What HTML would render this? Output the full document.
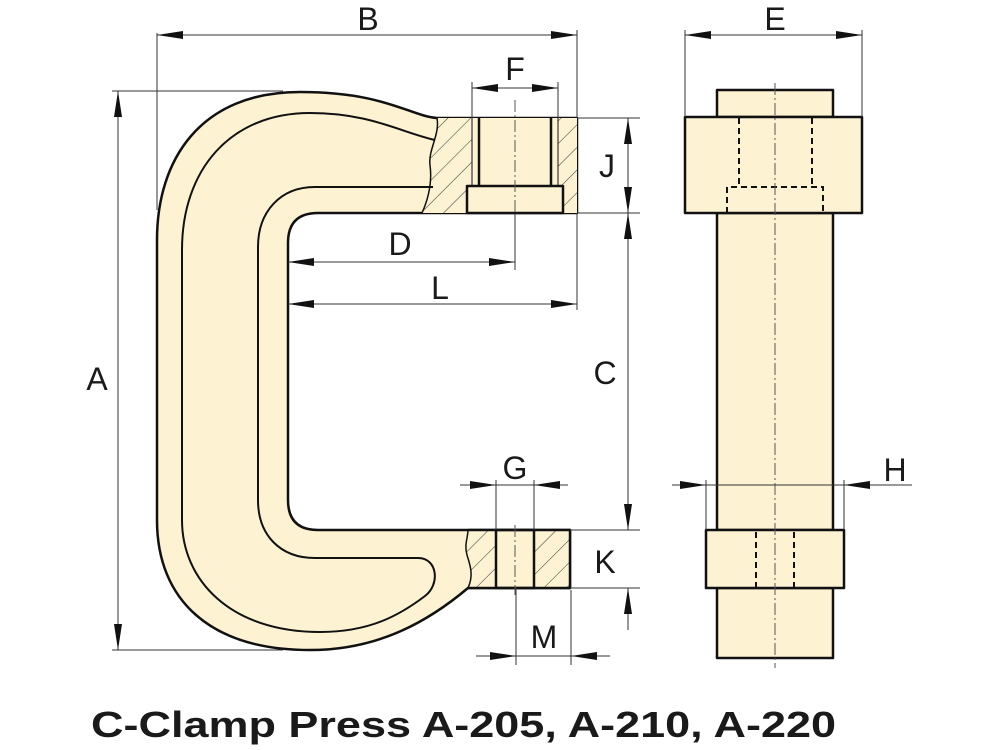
<!DOCTYPE html>
<html><head><meta charset="utf-8"><style>
html,body{margin:0;padding:0;background:#fff;}
svg{display:block;}
text{font-family:"Liberation Sans",sans-serif;fill:#1a1a1a;}
</style></head><body>
<svg width="1000" height="750" viewBox="0 0 1000 750" xmlns="http://www.w3.org/2000/svg">
<defs>
<marker id="ae" viewBox="0 0 26 8" refX="26" refY="4" markerWidth="26" markerHeight="8" markerUnits="userSpaceOnUse" orient="auto"><path d="M0,0 L26,4 L0,8 Z" fill="#111"/></marker>
<marker id="as" viewBox="0 0 26 8" refX="0" refY="4" markerWidth="26" markerHeight="8" markerUnits="userSpaceOnUse" orient="auto"><path d="M26,0 L0,4 L26,8 Z" fill="#111"/></marker>
<pattern id="hatch" patternUnits="userSpaceOnUse" width="16" height="16" patternTransform="rotate(45)"><rect width="16" height="16" fill="#fdf2d2"/><line x1="0" y1="0" x2="0" y2="16" stroke="#333" stroke-width="1"/></pattern>
</defs>
<g fill="#fdf2d2" stroke="#111" stroke-width="2.5" stroke-linejoin="round">
<path d="M437,118 C410,116 385,92 300,92 C200,92 157,160 157,240 L157,520 C157,600 210,650 310,650 C380,650 430,620 468,588 L570,588 L570,530 L318,530 Q288,530 288,500 L288,243 Q288,213 318,213 L577,213 L577,118 Z"/>
<path d="M437,118 L577,118 L577,213 L422,213 C430,195 432,180 430,165 C428,150 440,135 437,118 Z" fill="url(#hatch)" stroke="none"/>
<path d="M437,118 C440,135 428,150 430,165 C432,180 430,195 422,213" fill="none" stroke-width="1.5"/>
<rect x="472" y="118" width="86" height="68" stroke="none"/>
<line x1="472" y1="118" x2="472" y2="186" stroke-width="1"/>
<line x1="558" y1="118" x2="558" y2="186" stroke-width="1"/>
<line x1="479" y1="118" x2="479" y2="186"/>
<line x1="551" y1="118" x2="551" y2="186"/>
<rect x="467" y="186" width="96" height="27"/>
<path d="M468,530 L570,530 L570,588 L468,588 C474,575 470,565 467,555 C464,545 468,537 468,530 Z" fill="url(#hatch)" stroke="none"/>
<path d="M468,530 C468,537 464,545 467,555 C470,565 474,575 468,588" fill="none" stroke-width="1.5"/>
<rect x="496" y="530" width="38" height="58" stroke-width="2.5"/>
<path d="M468,588 L570,588 L570,530 L468,530" fill="none"/>
<path d="M433,187 L315,187 C280,187 258,212 258,247 L258,500 C258,535 280,558 315,558 L418,558 C438,558 440,585 425,596 C400,615 370,632 320,632 C230,632 182,580 182,520 L182,250 C182,170 230,113 310,113 C370,113 400,132 435,140" fill="none" stroke-width="2"/>
<rect x="717" y="90" width="116" height="27"/>
<rect x="717" y="213" width="116" height="317"/>
<rect x="717" y="588" width="116" height="70"/>
<rect x="685" y="117" width="177" height="96"/>
<rect x="706" y="530" width="138" height="58"/>
</g>
<g stroke="#111" stroke-width="2" stroke-dasharray="6,4" fill="none">
<path d="M739,118 L739,186 M812,118 L812,186 M727,213 L727,187 L823,187 L823,213"/>
<path d="M756,532 L756,587 M794,532 L794,587"/>
</g>
<g stroke="#555" stroke-width="1" stroke-dasharray="12,3,2,3" fill="none">
<line x1="775" y1="83" x2="775" y2="668"/>
<line x1="515" y1="100" x2="515" y2="213"/>
<line x1="515" y1="525" x2="515" y2="595"/>
</g>
<g stroke="#333" stroke-width="1" fill="none">
<line x1="515" y1="213" x2="515" y2="270"/>
<line x1="157" y1="33" x2="157" y2="210"/>
<line x1="577" y1="30" x2="577" y2="118"/>
<line x1="157" y1="35" x2="577" y2="35" marker-start="url(#as)" marker-end="url(#ae)"/>
<line x1="472" y1="82" x2="472" y2="118"/>
<line x1="558" y1="82" x2="558" y2="118"/>
<line x1="472" y1="88" x2="558" y2="88" marker-start="url(#as)" marker-end="url(#ae)"/>
<line x1="685" y1="30" x2="685" y2="117"/>
<line x1="862" y1="30" x2="862" y2="117"/>
<line x1="685" y1="35" x2="862" y2="35" marker-start="url(#as)" marker-end="url(#ae)"/>
<line x1="112" y1="91" x2="283" y2="91"/>
<line x1="112" y1="650" x2="283" y2="650"/>
<line x1="118" y1="91" x2="118" y2="650" marker-start="url(#as)" marker-end="url(#ae)"/>
<line x1="577" y1="118" x2="640" y2="118"/>
<line x1="577" y1="213" x2="640" y2="213"/>
<line x1="570" y1="530" x2="640" y2="530"/>
<line x1="570" y1="588" x2="640" y2="588"/>
<line x1="628" y1="118" x2="628" y2="213" marker-start="url(#as)" marker-end="url(#ae)"/>
<line x1="628" y1="213" x2="628" y2="530" marker-start="url(#as)" marker-end="url(#ae)"/>
<line x1="628" y1="630" x2="628" y2="588" marker-end="url(#ae)"/>
<line x1="577" y1="213" x2="577" y2="310"/>
<line x1="288" y1="262" x2="515" y2="262" marker-start="url(#as)" marker-end="url(#ae)"/>
<line x1="288" y1="304" x2="577" y2="304" marker-start="url(#as)" marker-end="url(#ae)"/>
<line x1="496" y1="480" x2="496" y2="530"/>
<line x1="534" y1="480" x2="534" y2="530"/>
<line x1="460" y1="485" x2="496" y2="485" marker-end="url(#ae)"/>
<line x1="568" y1="485" x2="534" y2="485" marker-end="url(#ae)"/>
<line x1="496" y1="485" x2="534" y2="485"/>
<line x1="516" y1="588" x2="516" y2="665"/>
<line x1="571" y1="590" x2="571" y2="665"/>
<line x1="476" y1="656" x2="516" y2="656" marker-end="url(#ae)"/>
<line x1="610" y1="656" x2="571" y2="656" marker-end="url(#ae)"/>
<line x1="516" y1="656" x2="571" y2="656"/>
<line x1="706" y1="480" x2="706" y2="530"/>
<line x1="844" y1="480" x2="844" y2="530"/>
<line x1="672" y1="485" x2="706" y2="485" marker-end="url(#ae)"/>
<line x1="912" y1="485" x2="844" y2="485" marker-end="url(#ae)"/>
<line x1="706" y1="485" x2="844" y2="485"/>
</g>
<g font-size="32" text-anchor="middle">
<text x="368" y="30">B</text>
<text x="515" y="80">F</text>
<text x="775" y="30">E</text>
<text x="97" y="390">A</text>
<text x="607" y="177">J</text>
<text x="605" y="384">C</text>
<text x="605" y="573">K</text>
<text x="400" y="255">D</text>
<text x="440" y="299">L</text>
<text x="515" y="479">G</text>
<text x="544" y="648">M</text>
<text x="895" y="481">H</text>
</g>
<text x="91" y="737" font-size="36" font-weight="bold" textLength="745" lengthAdjust="spacingAndGlyphs">C-Clamp Press A-205, A-210, A-220</text>
</svg>
</body></html>
